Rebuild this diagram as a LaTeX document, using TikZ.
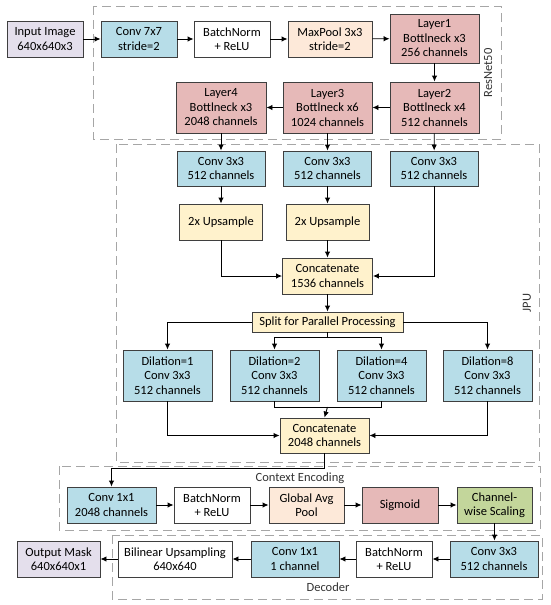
\documentclass[tikz,border=0pt]{standalone}
\usepackage{fontspec}
\setmainfont{Carlito}
\usetikzlibrary{arrows.meta}
\definecolor{cblue}{HTML}{B7DDE8}
\definecolor{cpink}{HTML}{E6B9B8}
\definecolor{cpeach}{HTML}{FDE9D9}
\definecolor{cyellow}{HTML}{FFF2CC}
\definecolor{cpurple}{HTML}{E4DFEC}
\definecolor{cgreen}{HTML}{C3D69B}
\definecolor{cedge}{HTML}{3F3F3F}
\definecolor{cframe}{HTML}{A6A6A6}
\begin{document}
\begin{tikzpicture}[x=1pt,y=-1pt,
  >={Latex[length=6pt,width=5.5pt]},
  every path/.style={line width=0.9pt},
  blk/.style={draw=cedge,align=center,inner sep=0pt,minimum height=36pt,
    font=\fontsize{12.5}{14.5}\selectfont},
  tall/.style={blk,minimum height=51pt},
  frame/.style={draw=cframe,dash pattern=on 9pt off 5pt},
  grp/.style={text=black!80,font=\fontsize{12.5}{14.5}\selectfont}]
  \useasboundingbox (0,0) rectangle (550,605);

  % group frames
  \draw[frame] (93,6) rectangle (501,139);
  \draw[frame] (116,144) rectangle (539,462);
  \draw[frame] (59,466) rectangle (540,530);
  \draw[frame] (112,535) rectangle (542,599);
  \node[grp,rotate=90] (lres) at (488,73) {ResNet50};
  \node[grp,rotate=90] (ljpu) at (527,303) {JPU};
  \node[grp] (lctx) at (300,478) {Context Encoding};
  \node[grp] (ldec) at (328,587) {Decoder};

  % backbone
  \node[blk,fill=cpurple,minimum width=76pt] (inp) at (45,39) {Input Image\\640x640x3};
  \node[blk,fill=cblue,minimum width=76pt] (c7) at (139,39) {Conv 7x7\\stride=2};
  \node[blk,fill=white,minimum width=76pt] (bn1) at (232,39) {BatchNorm\\+ ReLU};
  \node[blk,fill=cpeach,minimum width=84pt] (mp) at (330,39) {MaxPool 3x3\\stride=2};
  \node[tall,fill=cpink,minimum width=89pt,minimum height=49pt] (l1) at (434.5,38.5) {Layer1\\Bottlneck x3\\256 channels};
  \node[tall,fill=cpink,minimum width=89pt] (l2) at (434.5,107.5) {Layer2\\Bottlneck x4\\512 channels};
  \node[tall,fill=cpink,minimum width=89pt] (l3) at (327.5,107.5) {Layer3\\Bottlneck x6\\1024 channels};
  \node[tall,fill=cpink,minimum width=90pt] (l4) at (221,107.5) {Layer4\\Bottlneck x3\\2048 channels};
  \draw[->] (inp) -- (c7);
  \draw[->] (c7) -- (bn1);
  \draw[->] (bn1) -- (mp);
  \draw[->] (mp) -- (l1);
  \draw[->] (l1) -- (l2);
  \draw[->] (l2) -- (l3);
  \draw[->] (l3) -- (l4);

  % JPU
  \node[blk,fill=cblue,minimum width=88pt,minimum height=35pt] (cv1) at (221,168.5) {Conv 3x3\\512 channels};
  \node[blk,fill=cblue,minimum width=88pt,minimum height=35pt] (cv2) at (327.5,168.5) {Conv 3x3\\512 channels};
  \node[blk,fill=cblue,minimum width=88pt,minimum height=35pt] (cv3) at (434,168.5) {Conv 3x3\\512 channels};
  \node[blk,fill=cyellow,minimum width=83pt] (up1) at (221,222) {2x Upsample};
  \node[blk,fill=cyellow,minimum width=83pt] (up2) at (327.5,222) {2x Upsample};
  \node[blk,fill=cyellow,minimum width=90pt] (cat1) at (327.5,276) {Concatenate\\1536 channels};
  \node[blk,fill=cyellow,minimum width=151pt,minimum height=20pt] (split) at (327.5,322) {Split for Parallel Processing};
  \node[tall,fill=cblue,minimum width=89pt] (d1) at (167.5,375.5) {Dilation=1\\Conv 3x3\\512 channels};
  \node[tall,fill=cblue,minimum width=89pt] (d2) at (274.5,375.5) {Dilation=2\\Conv 3x3\\512 channels};
  \node[tall,fill=cblue,minimum width=89pt] (d3) at (381.5,375.5) {Dilation=4\\Conv 3x3\\512 channels};
  \node[tall,fill=cblue,minimum width=89pt] (d4) at (487.5,375.5) {Dilation=8\\Conv 3x3\\512 channels};
  \node[blk,fill=cyellow,minimum width=89pt,minimum height=35pt] (cat2) at (324.5,435.5) {Concatenate\\2048 channels};
  \coordinate (sp) at (327.5,337);
  \coordinate (jn) at (327.5,407);
  \coordinate (ctx) at (324.5,468);
  \draw[->] (l4) -- (cv1);
  \draw[->] (l3) -- (cv2);
  \draw[->] (l2) -- (cv3);
  \draw[->] (cv1) -- (up1);
  \draw[->] (cv2) -- (up2);
  \draw[->] (up1) |- (cat1.west);
  \draw[->] (up2) -- (cat1);
  \draw[->] (cv3) |- (cat1.east);
  \draw[->] (cat1) -- (split);
  \draw[->] (split.west) -| (d1.north);
  \draw[->] (split.east) -| (d4.north);
  \draw (split.south) -- (sp);
  \draw[->] (sp) -| (d2.north);
  \draw[->] (sp) -| (d3.north);
  \draw (d2.south) |- (jn);
  \draw (d3.south) |- (jn);
  \draw[->] (jn) -- (cat2.north);
  \draw[->] (d1.south) |- (cat2.west);
  \draw[->] (d4.south) |- (cat2.east);

  % context encoding
  \node[blk,fill=cblue,minimum width=89pt] (ce1) at (111.5,505) {Conv 1x1\\2048 channels};
  \node[blk,fill=white,minimum width=76pt] (ce2) at (212,505) {BatchNorm\\+ ReLU};
  \node[blk,fill=cpeach,minimum width=75pt] (ce3) at (306.5,505) {Global Avg\\Pool};
  \node[blk,fill=cpink,minimum width=76pt] (ce4) at (400,505) {Sigmoid};
  \node[blk,fill=cgreen,minimum width=75pt] (ce5) at (494.5,505) {Channel-\\wise Scaling};
  \draw[->] (cat2.south) -- (ctx) -| (ce1.north);
  \draw[->] (ce1) -- (ce2);
  \draw[->] (ce2) -- (ce3);
  \draw[->] (ce3) -- (ce4);
  \draw[->] (ce4) -- (ce5);

  % decoder
  \node[blk,fill=cblue,minimum width=88pt] (de1) at (494,559) {Conv 3x3\\512 channels};
  \node[blk,fill=white,minimum width=76pt] (de2) at (394,559) {BatchNorm\\+ ReLU};
  \node[blk,fill=cblue,minimum width=88pt] (de3) at (295,559) {Conv 1x1\\1 channel};
  \node[blk,fill=white,minimum width=114pt] (de4) at (175,559) {Bilinear Upsampling\\640x640};
  \node[blk,fill=cpurple,minimum width=83pt] (out) at (58.5,559) {Output Mask\\640x640x1};
  \draw[->] (ce5.south) -- (ce5.south |- de1.north);
  \draw[->] (de1) -- (de2);
  \draw[->] (de2) -- (de3);
  \draw[->] (de3) -- (de4);
  \draw[->] (de4) -- (out);
\end{tikzpicture}
\end{document}
